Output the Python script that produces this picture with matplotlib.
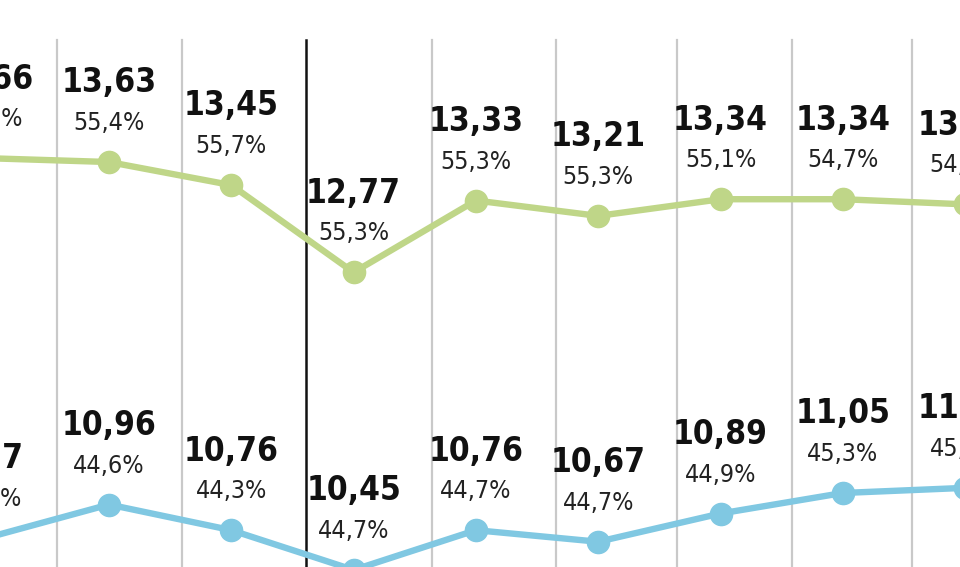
import matplotlib
matplotlib.use("Agg")
import matplotlib.pyplot as plt
from matplotlib import font_manager

# values (decimal comma labels)
green_vals = [13.66, 13.63, 13.45, 12.77, 13.33, 13.21, 13.34, 13.34, 13.30]
green_pct = [56.4, 55.4, 55.7, 55.3, 55.3, 55.3, 55.1, 54.7, 54.5]
blue_vals = [10.70, 10.96, 10.76, 10.45, 10.76, 10.67, 10.89, 11.05, 11.09]
blue_pct = [43.6, 44.6, 44.3, 44.7, 44.7, 44.7, 44.9, 45.3, 45.5]
green_lbl = ["13,66", "13,63", "13,45", "12,77", "13,33", "13,21", "13,34", "13,34", "13,30"]
blue_lbl = ["10,7", "10,96", "10,76", "10,45", "10,76", "10,67", "10,89", "11,05", "11,09"]

# vertical separators (data x), the black one marks a break
grid_x = [0.575, 1.597, 3.641, 4.655, 5.644, 6.585, 7.566]
break_x = 2.611

GREEN = "#bfd688"
BLUE = "#80c8e2"


def find_font(keys):
    # look for a narrow / condensed face by file name
    files = [f.fname for f in font_manager.fontManager.ttflist]
    for k in keys:
        for fn in files:
            base = fn.split("/")[-1]
            if base.lower() == k.lower():
                return fn
    return None


bold_file = find_font(["LiberationSansNarrow-Bold.ttf", "DejaVuSansCondensed-Bold.ttf"])
reg_file = find_font(["LiberationSansNarrow-Regular.ttf", "DejaVuSansCondensed.ttf"])

if bold_file and "Liberation" in bold_file:
    big, small = 28, 21
elif bold_file:
    big, small = 24, 18
else:
    big, small = 22, 17

bold_fp = font_manager.FontProperties(fname=bold_file, size=big) if bold_file else \
    font_manager.FontProperties(family="DejaVu Sans", weight="bold", size=big)
reg_fp = font_manager.FontProperties(fname=reg_file, size=small) if reg_file else \
    font_manager.FontProperties(family="DejaVu Sans", size=small)


def fmt_pct(p):
    return f"{p:.1f}%".replace(".", ",")


fig = plt.figure(figsize=(9.6, 5.67), dpi=100)
ax = fig.add_axes([0, 0, 1, 1])
ax.set_xlim(0.1088, 7.958)
ax.set_ylim(10.473, 14.893)
ax.axis("off")

top = 1 - 40 / 567
for gx in grid_x:
    ax.axvline(gx, ymin=0, ymax=top, color="#c9c9c9", lw=1.6, zorder=1)
ax.axvline(break_x, ymin=0, ymax=top, color="#111111", lw=1.8, zorder=1)

xs = list(range(len(green_vals)))
for vals, pcts, lbls, col in [(green_vals, green_pct, green_lbl, GREEN),
                              (blue_vals, blue_pct, blue_lbl, BLUE)]:
    ax.plot(xs, vals, color=col, lw=4.6, marker="o", ms=16, zorder=3,
            solid_capstyle="round")
    for x, v, p, l in zip(xs, vals, pcts, lbls):
        ax.annotate(l, (x, v), xytext=(0, 57), textcoords="offset points",
                    ha="center", va="center", fontproperties=bold_fp,
                    color="#111111", zorder=4, annotation_clip=False)
        ax.annotate(fmt_pct(p), (x, v), xytext=(0, 28), textcoords="offset points",
                    ha="center", va="center", fontproperties=reg_fp,
                    color="#222222", zorder=4, annotation_clip=False)

fig.savefig("out.png", dpi=100)
